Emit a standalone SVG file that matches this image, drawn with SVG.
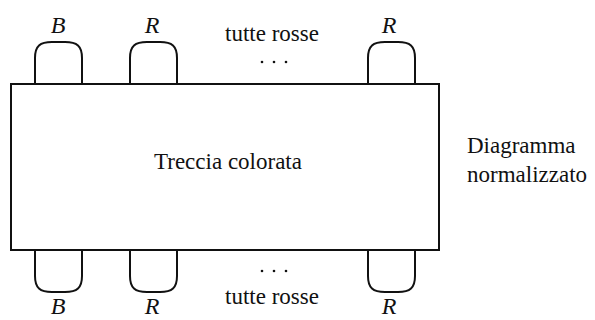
<svg xmlns="http://www.w3.org/2000/svg" width="595" height="320" viewBox="0 0 595 320">
<style>
  text { font-family: 'Liberation Serif', 'DejaVu Serif', serif; fill: #111; }
  .t { font-size: 23px; }
  .lab { font-size: 24px; font-style: italic; text-anchor: middle; }
  .mid { text-anchor: middle; }
  .box { fill: #fff; stroke: #111; stroke-width: 2; }
  .strand { fill: none; stroke: #111; stroke-width: 2; }
  .dots { fill: #111; }
</style>
<rect width="595" height="320" fill="#fff"/>
<g id="connectors">
  <path class="strand" d="M35,84 V58 C35,46 40,42 52,42 H65 C77,42 82,46 82,58 V84"/>
  <path class="strand" d="M130,84 V58 C130,46 135,42 147,42 H160 C172,42 177,46 177,58 V84"/>
  <path class="strand" d="M368,84 V58 C368,46 373,42 385,42 H398 C410,42 415,46 415,58 V84"/>
  <path class="strand" d="M35,250 V276 C35,288 40,292 52,292 H65 C77,292 82,288 82,276 V250"/>
  <path class="strand" d="M130,250 V276 C130,288 135,292 147,292 H160 C172,292 177,288 177,276 V250"/>
  <path class="strand" d="M368,250 V276 C368,288 373,292 385,292 H398 C410,292 415,288 415,276 V250"/>
</g>
<g id="treccia">
  <rect class="box" x="11" y="84" width="428" height="166"/>
  <text class="t mid" x="228" y="169">Treccia colorata</text>
</g>
<g id="etichette-sopra">
  <text class="lab" x="58" y="33">B</text>
  <text class="lab" x="152" y="33">R</text>
  <text class="lab" x="389" y="33">R</text>
  <text class="t mid" x="272" y="41">tutte rosse</text>
  <g class="dots"><circle cx="262" cy="62" r="1.3"/><circle cx="274" cy="62" r="1.3"/><circle cx="286" cy="62" r="1.3"/></g>
</g>
<g id="etichette-sotto">
  <text class="lab" x="58" y="314">B</text>
  <text class="lab" x="152" y="314">R</text>
  <text class="lab" x="389" y="314">R</text>
  <text class="t mid" x="272" y="304">tutte rosse</text>
  <g class="dots"><circle cx="262" cy="271" r="1.3"/><circle cx="274" cy="271" r="1.3"/><circle cx="286" cy="271" r="1.3"/></g>
</g>
<g id="diagramma">
  <text class="t" x="467" y="153">Diagramma</text>
  <text class="t" x="467" y="182">normalizzato</text>
</g>
</svg>
